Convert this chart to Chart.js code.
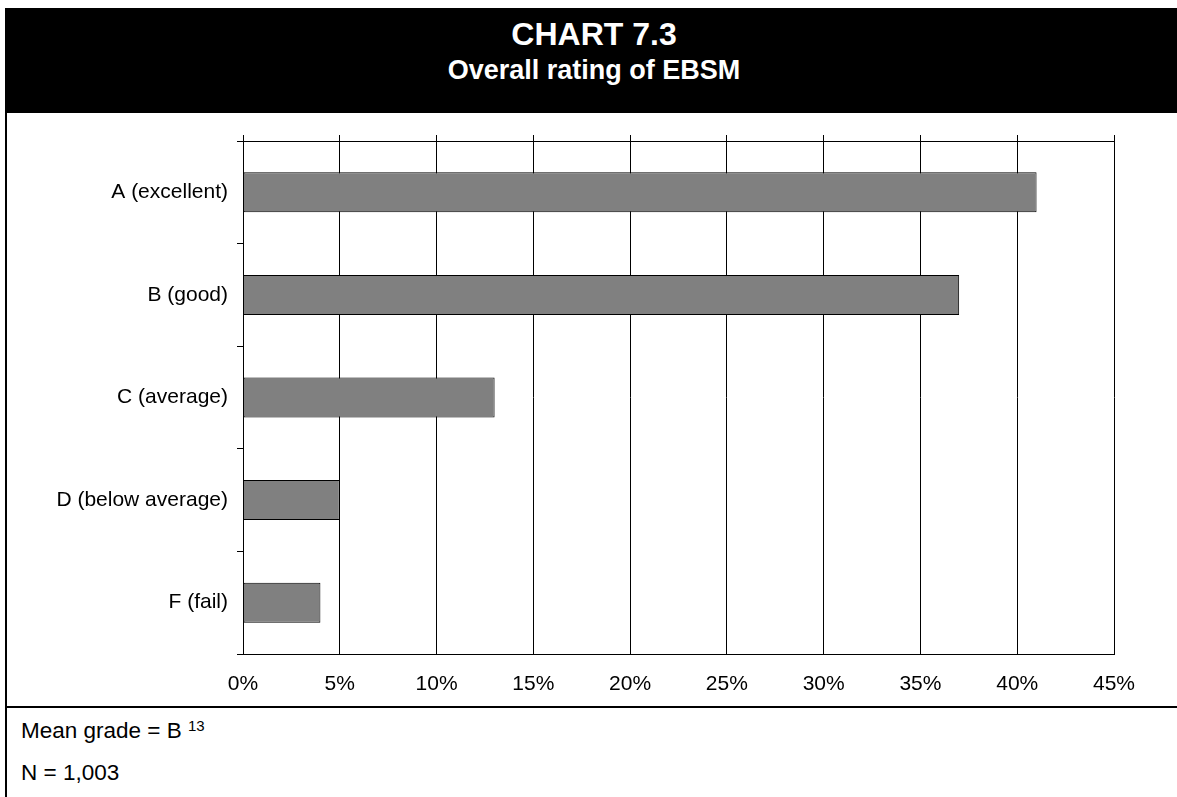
<!DOCTYPE html>
<html>
<head>
<meta charset="utf-8">
<title>Chart 7.3</title>
<script src="https://cdn.jsdelivr.net/npm/chart.js@4.4.1/dist/chart.umd.min.js"></script>
<style>
    html, body { margin: 0; padding: 0; background: #fff; }
    body { width: 1177px; height: 797px; position: relative; overflow: hidden;
           font-family: "Liberation Sans", Arial, sans-serif; color: #000; }
    .header { position: absolute; left: 5px; top: 8px; width: 1172px; height: 105px; background: #000; }
    .title { position: absolute; left: 5px; width: 1178px; text-align: center; color: #fff;
             font-weight: bold; line-height: 1; white-space: nowrap; }
    .title.main { top: 18px; font-size: 32px; }
    .title.sub { top: 57px; font-size: 27px; }
    .left-rule { position: absolute; left: 5px; top: 113px; width: 2px; height: 684px; background: #000; }
    .foot-rule { position: absolute; left: 5px; top: 706px; width: 1172px; height: 2px; background: #000; }
    .note { position: absolute; left: 21px; font-size: 22.5px; line-height: 1; white-space: nowrap; }
    .note sup { font-size: 15px; vertical-align: 7px; line-height: 0; }
    #chartBox { position: absolute; left: 0; top: 113px; width: 1177px; height: 593px; }
</style>
</head>
<body>
<div class="header"></div>
<div class="title main">CHART 7.3</div>
<div class="title sub">Overall rating of EBSM</div>
<div class="left-rule"></div>
<div class="foot-rule"></div>
<div class="note" style="top: 720px;">Mean grade = B <sup>13</sup></div>
<div class="note" style="top: 762px;">N = 1,003</div>

<div id="chartBox"><canvas id="chart"></canvas></div>

<script>
// grades and share of respondents (%)
const grades = ['A (excellent)', 'B (good)', 'C (average)', 'D (below average)', 'F (fail)'];
const shares = [41, 37, 13, 5, 4];
const axisMin = 0;
const axisMax = 45;
const axisStep = 5;

const font = { family: '"Liberation Sans", Arial, sans-serif', size: 21 };
const lineColor = '#000';

new Chart(document.getElementById('chart'), {
    type: 'bar',
    data: {
        labels: grades,
        datasets: [{
            data: shares,
            backgroundColor: '#808080',
            borderColor: '#000',
            borderWidth: 1,
            borderSkipped: false,
            categoryPercentage: 1,
            barPercentage: 0.39
        }]
    },
    options: {
        indexAxis: 'y',
        responsive: true,
        maintainAspectRatio: false,
        animation: false,
        devicePixelRatio: 1,
        layout: { padding: { top: 22, right: 63, bottom: 0, left: 0 } },
        plugins: {
            legend: { display: false },
            tooltip: { enabled: false }
        },
        scales: {
            x: {
                type: 'linear',
                position: 'bottom',
                min: axisMin,
                max: axisMax,
                grid: { color: lineColor, lineWidth: 1, drawTicks: false },
                border: { display: true, color: lineColor, width: 1 },
                ticks: {
                    stepSize: axisStep,
                    color: '#000',
                    font: font,
                    padding: 18,
                    callback: (v) => v + '%'
                },
                afterFit: (scale) => { scale.height = 52; }
            },
            // top edge of the plot, with the short marks above each gridline
            xTop: {
                type: 'linear',
                position: 'top',
                min: axisMin,
                max: axisMax,
                grid: { color: lineColor, lineWidth: 1, drawOnChartArea: false, drawTicks: true, tickLength: 6 },
                border: { display: true, color: lineColor, width: 1 },
                ticks: { stepSize: axisStep, display: false }
            },
            y: {
                type: 'category',
                position: 'left',
                offset: true,
                grid: { offset: true, color: lineColor, lineWidth: 1, drawOnChartArea: false, drawTicks: true, tickLength: 6 },
                border: { display: true, color: lineColor, width: 1 },
                ticks: { color: '#000', font: font, padding: 9 },
                afterFit: (scale) => { scale.width = 243; }
            }
        }
    }
});
</script>
</body>
</html>
